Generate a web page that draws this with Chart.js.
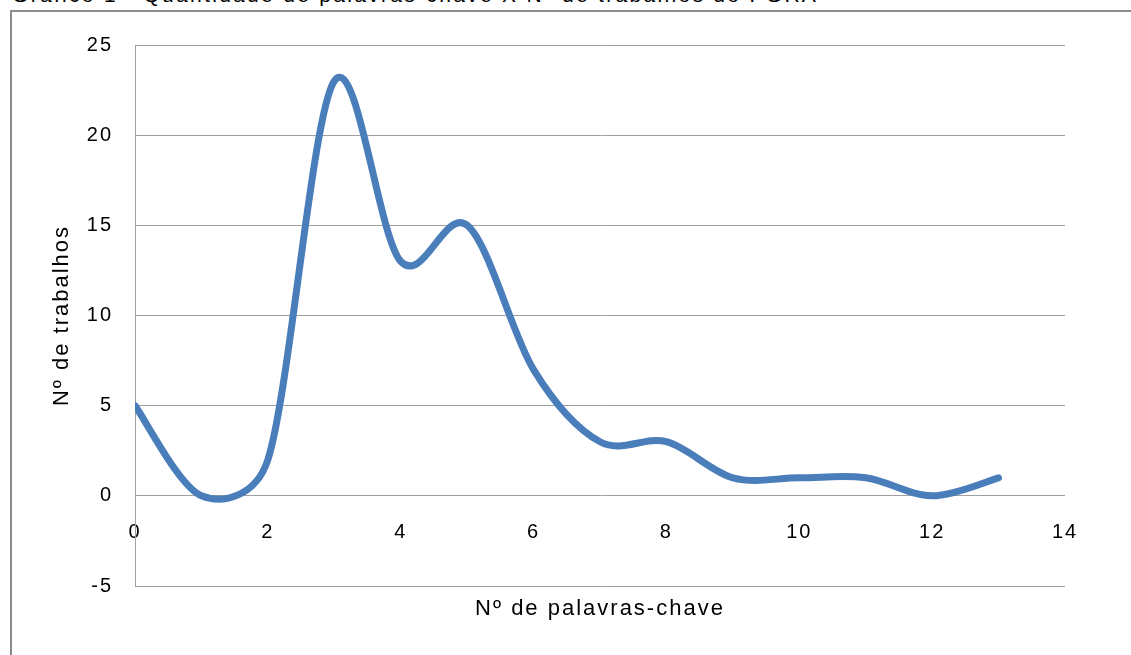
<!DOCTYPE html>
<html lang="pt">
<head>
<meta charset="utf-8">
<title>Gráfico 1 - Quantidade de palavras-chave</title>
<script src="https://cdn.jsdelivr.net/npm/chart.js@4.4.0/dist/chart.umd.min.js"></script>
<style>
  html, body { margin: 0; padding: 0; background: #fff; overflow: hidden; }
  body { width: 1131px; height: 655px; position: relative; font-family: "Liberation Sans", Arial, sans-serif; }
  #legenda { position: absolute; left: 12px; top: -17px; font-size: 21px; letter-spacing: 2.3px; color: #000; white-space: nowrap; }
  #moldura { position: absolute; left: 10px; top: 10px; width: 1200px; height: 700px; border: 2px solid #8c8c8c; }
  #grafico { position: absolute; left: 0; top: 0; }
</style>
</head>
<body>
<div id="legenda">Gráfico 1 - Quantidade de palavras-chave X Nº de trabalhos do PGRA</div>
<div id="moldura"></div>
<canvas id="grafico" width="1131" height="655"></canvas>
<script>
// Dados
const palavras = [0, 1, 2, 3, 4, 5, 6, 7, 8, 9, 10, 11, 12, 13];
const trabalhos = [5, 0, 2, 23, 13, 15, 7, 3, 3, 1, 1, 1, 0, 1];
const ticksX = [0, 2, 4, 6, 8, 10, 12, 14];
const ticksY = [-5, 0, 5, 10, 15, 20, 25];

const fonte = "'Liberation Sans', Arial, sans-serif";
const cinza = "#a0a0a0";

// espaco entre letras, o original parece esticado na horizontal
const espacamento = {
  id: "espacamento",
  beforeLayout(chart) { chart.ctx.letterSpacing = "2px"; },
  beforeDraw(chart) { chart.ctx.letterSpacing = "2px"; }
};

// suavizacao tipo Excel: tangente (prox - ant) / 6, braco limitado a metade do segmento
const suavizar = {
  id: "suavizar",
  beforeDatasetDraw(chart, args) {
    const meta = args.meta;
    meta.dataset.updateControlPoints(chart.chartArea, "x");
    const pts = meta.data;
    for (let i = 0; i < pts.length; i++) {
      const p = pts[i];
      const ant = pts[Math.max(i - 1, 0)];
      const prox = pts[Math.min(i + 1, pts.length - 1)];
      const dx = (prox.x - ant.x) / 6;
      const dy = (prox.y - ant.y) / 6;
      const len = Math.hypot(dx, dy) || 1;
      const dAnt = Math.hypot(p.x - ant.x, p.y - ant.y);
      const dProx = Math.hypot(prox.x - p.x, prox.y - p.y);
      const k1 = Math.min(1, dAnt / 2 / len);
      const k2 = Math.min(1, dProx / 2 / len);
      p.cp1x = p.x - dx * k1;
      p.cp1y = p.y - dy * k1;
      p.cp2x = p.x + dx * k2;
      p.cp2y = p.y + dy * k2;
    }
  }
};

const pontos = palavras.map((p, i) => ({ x: p, y: trabalhos[i] }));

new Chart(document.getElementById("grafico").getContext("2d"), {
  type: "line",
  data: {
    datasets: [{
      data: pontos,
      borderColor: "#4a7ebb",
      borderWidth: 7,
      borderCapStyle: "round",
      borderJoinStyle: "round",
      pointRadius: 0,
      tension: 0.4,
      fill: false
    }]
  },
  options: {
    responsive: false,
    animation: false,
    layout: { padding: { left: 40, right: 66, top: 45, bottom: 20 } },
    plugins: { legend: { display: false }, tooltip: { enabled: false } },
    scales: {
      x: {
        type: "linear",
        position: { y: 0 },
        min: ticksX[0],
        max: ticksX[ticksX.length - 1],
        afterBuildTicks: s => { s.ticks = ticksX.map(v => ({ value: v })); },
        ticks: { padding: 17, color: "#000", font: { family: fonte, size: 20 } },
        grid: { display: false },
        border: { display: false }
      },
      x2: {
        type: "linear",
        position: "bottom",
        min: 0,
        max: 14,
        ticks: { display: false },
        grid: { display: false },
        border: { display: false },
        title: {
          display: true,
          text: "Nº de palavras-chave",
          color: "#000",
          font: { family: fonte, size: 22 },
          padding: { top: 0, bottom: 13 }
        },
        afterFit: s => { s.height = 49; }
      },
      y: {
        min: ticksY[0],
        max: ticksY[ticksY.length - 1],
        afterBuildTicks: s => { s.ticks = ticksY.map(v => ({ value: v })); },
        ticks: { padding: 22, color: "#000", font: { family: fonte, size: 20 } },
        grid: { color: cinza, drawTicks: false },
        border: { color: cinza },
        title: {
          display: true,
          text: "Nº de trabalhos",
          color: "#000",
          font: { family: fonte, size: 22 },
          padding: { top: 9, bottom: 0 }
        },
        afterFit: s => { s.width = 95; }
      }
    }
  },
  plugins: [espacamento, suavizar]
});
</script>
</body>
</html>
